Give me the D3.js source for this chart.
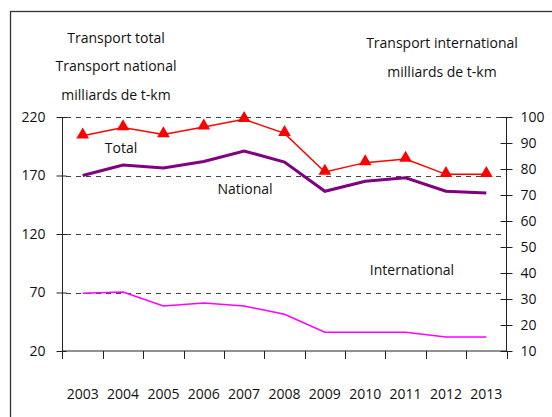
<!DOCTYPE html>
<html>
<head>
<meta charset="utf-8">
<script src="https://cdn.jsdelivr.net/npm/d3@7"></script>
<style>
  body { margin: 0; background: #fff; }
  svg text { font-family: "Open Sans", sans-serif; font-size: 14px; fill: #111; }
  .axis path, .axis line { stroke: #222; }
</style>
</head>
<body>
<script>
var years = ["2003","2004","2005","2006","2007","2008","2009","2010","2011","2012","2013"];
var total = [204, 211, 205, 211.5, 218, 206, 173, 181, 184, 171, 171];
var national = [170, 179, 176.5, 182, 191, 181.5, 156.5, 165, 168, 156.5, 155];
var international = [32.2, 32.7, 27.3, 28.5, 27.3, 24.1, 17.2, 17.2, 17.2, 15.4, 15.4];
var leftTicks = [20, 70, 120, 170, 220];
var rightTicks = [10, 20, 30, 40, 50, 60, 70, 80, 90, 100];

var width = 552, height = 417;

var svg = d3.select("body").append("svg")
    .attr("width", width)
    .attr("height", height);

// cadre
svg.append("rect")
    .attr("x", 10.5).attr("y", 11.5)
    .attr("width", 700).attr("height", 600)
    .attr("fill", "none").attr("stroke", "#333").attr("stroke-width", 1.3);

var x = d3.scaleBand().domain(years).range([62.5, 506.5]);
var yL = d3.scaleLinear().domain([20, 220]).range([351, 117]);
var yR = d3.scaleLinear().domain([10, 100]).range([351, 117]);

// grille pointillée
svg.selectAll(".grid")
    .data(leftTicks.filter(function(d) { return d > 20; }))
    .enter().append("line")
    .attr("class", "grid")
    .attr("x1", 66).attr("x2", 503)
    .attr("y1", function(d) { return Math.round(yL(d)) + 0.5; })
    .attr("y2", function(d) { return Math.round(yL(d)) + 0.5; })
    .attr("stroke", "#444")
    .attr("stroke-dasharray", "5,5");

function drawLeftAxis() {
  var g = svg.append("g")
      .attr("class", "axis")
      .attr("transform", "translate(62.5,0)")
      .call(d3.axisLeft(yL).tickValues(leftTicks).tickSize(6).tickPadding(11));
  g.select(".domain").attr("d", "M0," + yL(20) + "V" + yL(220));
  g.selectAll(".tick line").attr("x1", 4);
}

function drawRightAxis() {
  var g = svg.append("g")
      .attr("class", "axis")
      .attr("transform", "translate(506.5,0)")
      .call(d3.axisRight(yR).tickValues(rightTicks).tickSize(6).tickPadding(8));
  g.select(".domain").attr("d", "M0," + yR(10) + "V" + yR(100));
  g.selectAll(".tick line").attr("x1", -6);
}

function drawXAxis() {
  var g = svg.append("g")
      .attr("class", "axis")
      .attr("transform", "translate(0,351)");
  g.append("line")
      .attr("x1", x.range()[0]).attr("x2", x.range()[1])
      .attr("stroke", "#222");
  var bounds = years.map(function(d) { return x(d); }).concat([x.range()[1]]);
  g.selectAll(".xtick")
      .data(bounds)
      .enter().append("line")
      .attr("class", "xtick")
      .attr("x1", function(d) { return Math.round(d) + 0.5; })
      .attr("x2", function(d) { return Math.round(d) + 0.5; })
      .attr("y1", 0).attr("y2", 8)
      .attr("stroke", "#222");
  g.selectAll(".xlabel")
      .data(years)
      .enter().append("text")
      .attr("class", "xlabel")
      .attr("x", function(d) { return x(d) + x.bandwidth() / 2; })
      .attr("y", 48)
      .attr("text-anchor", "middle")
      .text(function(d) { return d; });
}

drawLeftAxis();
drawRightAxis();
drawXAxis();

function cx(i) { return x(years[i]) + x.bandwidth() / 2; }

var lineL = d3.line().x(function(d, i) { return cx(i); }).y(function(d) { return yL(d); });
var lineR = d3.line().x(function(d, i) { return cx(i); }).y(function(d) { return yR(d); });

svg.append("path").datum(international)
    .attr("d", lineR).attr("fill", "none")
    .attr("stroke", "#ff00ff").attr("stroke-width", 1.5);

svg.append("path").datum(national)
    .attr("d", lineL).attr("fill", "none")
    .attr("stroke", "#800080").attr("stroke-width", 3);

svg.append("path").datum(total)
    .attr("d", lineL).attr("fill", "none")
    .attr("stroke", "#ff0000").attr("stroke-width", 1.5);

svg.selectAll(".tri")
    .data(total)
    .enter().append("path")
    .attr("class", "tri")
    .attr("d", d3.symbol().type(d3.symbolTriangle).size(70))
    .attr("transform", function(d, i) { return "translate(" + cx(i) + "," + (yL(d) - 1) + ")"; })
    .attr("fill", "#ff0000");

// étiquettes des séries
var labels = [
  { t: "Total", x: 121, y: 153 },
  { t: "National", x: 245, y: 194 },
  { t: "International", x: 412, y: 275 }
];
svg.selectAll(".slabel")
    .data(labels)
    .enter().append("text")
    .attr("class", "slabel")
    .attr("x", function(d) { return d.x; })
    .attr("y", function(d) { return d.y; })
    .attr("text-anchor", "middle")
    .text(function(d) { return d.t; });

// titres
var titles = [
  { t: "Transport total", x: 116, y: 43 },
  { t: "Transport national", x: 116, y: 71 },
  { t: "milliards de t-km", x: 116, y: 100 },
  { t: "Transport international", x: 442, y: 48 },
  { t: "milliards de t-km", x: 442, y: 77 }
];
svg.selectAll(".title")
    .data(titles)
    .enter().append("text")
    .attr("class", "title")
    .attr("x", function(d) { return d.x; })
    .attr("y", function(d) { return d.y; })
    .attr("text-anchor", "middle")
    .text(function(d) { return d.t; });
</script>
</body>
</html>
